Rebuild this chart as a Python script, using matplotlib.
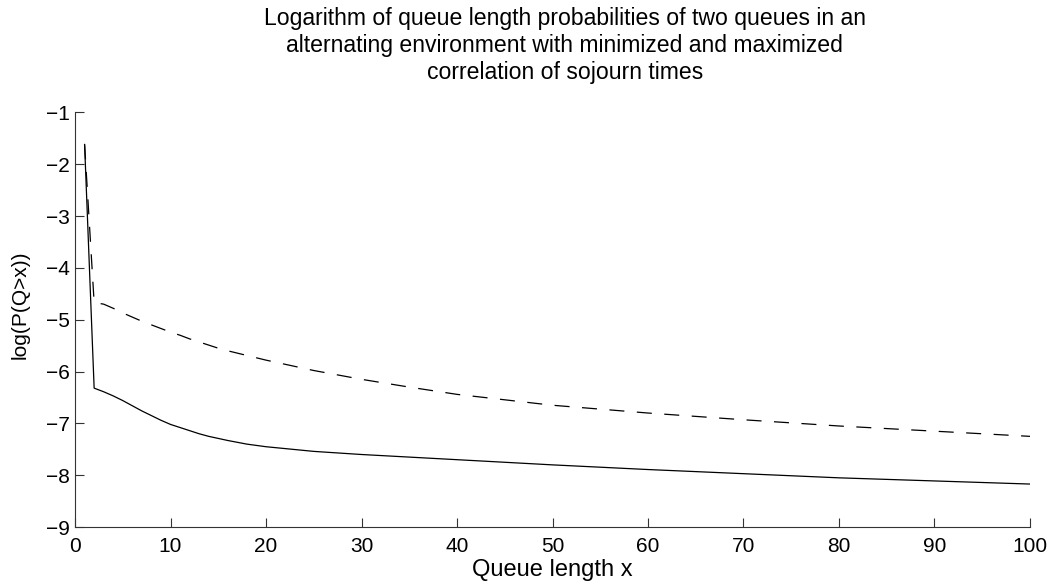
import matplotlib
matplotlib.use("Agg")
import matplotlib.pyplot as plt

plt.rcParams['font.family'] = ['Liberation Sans', 'DejaVu Sans']

# queue length and log tail probabilities for the two correlation cases
x = [1, 2, 3, 4, 5, 6, 7, 8, 9, 10, 11, 12, 13, 14, 15, 16, 18, 20, 25, 30, 35, 40,
     50, 60, 70, 80, 90, 100]
log_p_min = [-1.62, -6.32, -6.39, -6.47, -6.56, -6.66, -6.76, -6.85, -6.94, -7.02,
             -7.08, -7.14, -7.20, -7.25, -7.29, -7.33, -7.40, -7.45, -7.54, -7.60,
             -7.65, -7.70, -7.80, -7.89, -7.97, -8.05, -8.11, -8.17]
log_p_max = [-1.62, -4.67, -4.70, -4.78, -4.87, -4.95, -5.03, -5.10, -5.17, -5.24,
             -5.30, -5.37, -5.43, -5.49, -5.55, -5.60, -5.69, -5.78, -5.98, -6.15,
             -6.30, -6.44, -6.65, -6.80, -6.93, -7.05, -7.15, -7.25]

fig = plt.figure(figsize=(10.51, 5.85), dpi=100)
ax = fig.add_axes([0.0714, 0.099, 0.9086, 0.709])

ax.plot(x, log_p_min, color='black', linewidth=0.9)
ax.plot(x, log_p_max, color='black', linewidth=0.9, linestyle=(0, (12, 10)))

ax.set_xlim(0, 100)
ax.set_ylim(-9, -1)
ax.set_xticks(range(0, 101, 10))
ax.set_yticks(range(-9, 0))

ax.spines['top'].set_visible(False)
ax.spines['right'].set_visible(False)
for s in ('left', 'bottom'):
    ax.spines[s].set_linewidth(0.8)
    ax.spines[s].set_color('#333333')
ax.tick_params(direction='in', length=6.5, width=0.8, color='#333333',
               labelsize=15)
ax.tick_params(axis='x', pad=7)
ax.tick_params(axis='y', pad=4)

ax.set_xlabel('Queue length x', fontsize=17, va='center', ha='center')
ax.xaxis.set_label_coords(0.5, -0.104)
ax.set_ylabel('log(P(Q>x))', fontsize=15, va='center', ha='center')
ax.yaxis.set_label_coords(-0.057, 0.536)

ax.set_title('Logarithm of queue length probabilities of two queues in an\n'
             'alternating environment with minimized and maximized\n'
             'correlation of sojourn times', fontsize=16.6, pad=24,
             linespacing=1.22, x=0.513)

fig.savefig('out.png', dpi=100)
